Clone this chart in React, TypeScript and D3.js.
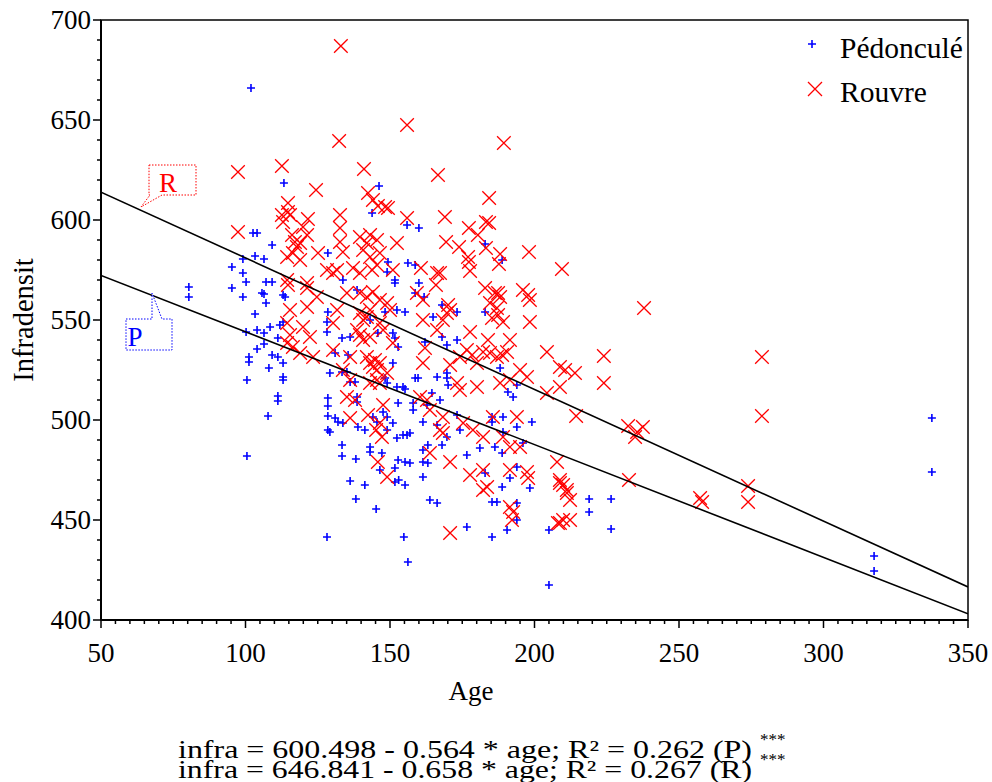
import React from "react";
import * as d3 from "d3";

// [age, infradensité]
const pedonculePoints: [number, number][] = [
  [101.9,666],[102.6,593.5],[104,593.5],[103.3,582],[106.4,580.5],[99.1,580.5],[95.3,576.5],[99.1,573.5],[100.2,569],[107.1,569],
  [95.3,566],[99.1,561.5],[106.4,563],[107.1,558.5],[103.3,553],[100.2,544],[104,545],[106.4,543.5],[106.4,538],[104,535.5],
  [101.2,531.5],[101.2,529],[108.1,526],[100.5,520],[80.4,566.5],[80.4,561.5],[107.8,502],[100.5,482],
  [113.3,618.5],[146.2,617],[143.8,603.5],
  [160,596],[182.9,588],[188.8,580],[158.7,577.5],[160,568.5],[158.7,563.5],[161.8,561.5],
  [155.9,597.5],[109.2,587.5],[128.5,583.5],[149.3,579],[156.2,578.5],[149,574],[151.7,570],[151.7,568.5],[109.2,569],[105.7,563.5],
  [113,562.5],[113.7,561.5],[133.7,570],[138.6,565],[128.5,554],[148.3,554],[152.4,555],[155.2,554],[143.1,550],[128.2,549],
  [128.2,544],[108.5,546.5],[111.9,547.5],[113,549],[111.2,541],[133.4,541],[136.2,541.5],[145.8,543.5],[151,543.5],[151.7,541],
  [131,533.5],[135.5,532.5],[152.8,536.5],[109.2,532.5],[111.2,531.5],[113,528.5],[151,528.5],[129.2,523.5],[133.4,524],[135.1,524],
  [136.2,519],[137.9,519],[113,521.5],[113,520],[148.3,521],[149,518.5],[152.4,516.5],[154.5,516.5],[158.7,521],
  [111.2,512],[111.2,509.5],[128.5,511],[128.5,507],[128.5,502],[131,501],[132,499],[128.5,495],[129.2,494],[138.6,511.5],
  [138.6,509],[133.7,498.5],[138.9,496.5],[141.3,495],[144.1,501.5],[145.5,499],[147.6,504],[149,501.5],[151,498.5],[149,495],
  [155.2,515.5],[158,508.5],[158,505],[152.8,508.5],[152.4,491],[154.5,492.5],[155.9,492.5],[156.9,493.5],[133.4,487.5],[133.4,482],
  [138.2,480.5],[143.1,486.5],[143.1,484],[147.2,483.5],[152.8,480],[155.2,479],[156.9,478.5],[151.7,476],[146.5,475],[136.2,469.5],
  [141.3,467.5],[151.7,469],[153,470],[155.2,467.5],[138.2,460.5],[145.2,455.5],[128.2,441.5],[154.8,441.5],[156.2,429],
  [168,557.5],[173.2,554],[182.9,554],[164.9,551.5],[162.1,539],[168,541.5],[169.7,537.5],[173.2,540],[188.1,526],[159.7,521],
  [166.3,521.5],[169.7,523.5],[169.7,521],[170.1,517.5],[193.9,517.5],[190.8,514],[192.6,511.5],[164.5,513.5],[162.8,507.5],[167.3,510],
  [173.2,502.5],[185.3,501.5],[185.3,499],[189.1,501.5],[161.4,499],[166.3,497.5],[169.7,491.5],[174.2,495],[189.1,494],[193.9,496.5],
  [199.1,499],[163.1,487.5],[168,487.5],[161.4,485],[161.4,479],[176.6,482.5],[181.1,486],[186.3,486.5],[188.8,483.5],[196,488.5],
  [163.1,478.5],[182.9,473.5],[191.5,471],[193.9,476.5],[161.4,471.5],[188.8,466.5],[198.4,466],[163.8,460],[166.3,458.5],[185.3,459],
  [187,459],[193.9,458.5],[193.9,450],[176.6,446.5],[190.5,445],[205,445],[185.3,441.5],
  [218.9,460.5],[218.9,454],[226.5,460.5],[226.5,445.5],[205,417.5],[337.5,501],[337.5,474],[317.5,432],[317.5,424.5],
];

const rouvrePoints: [number, number][] = [
  [97.4,624],[97.4,594],
  [133,687],[155.9,647.5],[132.4,639.5],[112.6,627],[141,625.5],[124.4,615],[142.4,613.5],[144.1,610],[114.7,608.5],[145.8,607],
  [148.3,606.5],[149.3,606],[112.6,602.5],[114.7,604],[132.7,602.5],[155.9,601],[121.6,600.5],
  [189.4,638.5],[166.6,622.5],[184.3,611],[169,601.5],[183.2,599],[184.3,598.5],[177.3,596],[180.4,592.5],[169.4,589],[173.9,586.5],
  [183.2,586],[177,581.5],[177.3,579],[188.1,583],[198.1,584],[187.7,578],[177.7,574.5],[209.5,575.5],[160.7,576],[166.3,573.5],
  [167.3,573.5],[165.9,567.5],[182.9,566],[187.4,563.5],[196,565],[197.8,562.5],
  [113,599],[115.4,602.5],[116.1,592.5],[119.9,596.5],[117.1,589],[118.9,588.5],[117.8,586.5],[121.3,592.5],[132.7,596],[132.7,589],
  [139.6,591.5],[143.1,592.5],[145.5,590],[142,588.5],[152.4,588.5],[114.4,581.5],[116.4,583.5],[118.9,580],[125.1,583.5],[133.7,584],
  [140.7,585],[143.1,581.5],[146.5,583.5],[114.4,570],[114.7,567.5],[121.3,568.5],[121.3,566],[128.2,575],[130.3,573.5],[131.7,575],
  [137.2,576],[139.6,573.5],[143.8,575],[145.5,577.5],[151,575],[124.7,561.5],[135.1,563.5],[139.6,563.5],[142,561.5],[144.1,564],
  [146.5,560],[149,558.5],[115.4,555],[114.4,548.5],[121.3,556.5],[131.7,555],[139.6,553.5],[140.7,550],[142,551.5],[143.1,555],
  [150,555],[115.4,542.5],[119.9,546.5],[122.3,541.5],[130.3,548.5],[138.6,545],[139.6,542.5],[140.7,540],[143.1,541.5],[146.5,548.5],
  [147.6,545],[151,538.5],[114.4,538.5],[116.4,536.5],[118.9,533.5],[123.4,531.5],[130.3,535],[136.2,531.5],[142,531.5],[143.1,528.5],
  [144.1,526.5],[145.5,525],[144.8,530],[146.5,528.5],[149,523.5],[145.5,520],[143.1,518.5],[146.5,518.5],[133.7,525],[136.2,520],
  [135.1,511.5],[137.9,510],[136.2,501],[142.4,502.5],[145.2,495],[147.2,491.5],[147.6,507.5],[145.8,479],[149,471.5],[146.5,498.5],
  [159.3,563.5],[161.4,560],[170.1,557.5],[170.8,555],[184.6,558.5],[187,556],[188.1,561.5],[186.3,563.5],[198.4,560],[161.4,550],
  [168.3,550],[169.7,553.5],[185.3,551],[187.4,552.5],[189.1,549],[198.4,549],[166.3,545],[177.7,544],[183.9,540],[191.5,540],
  [162.1,536],[176.6,535],[178.4,532.5],[174.2,531.5],[182.2,534],[184.6,533.5],[187,531.5],[188.8,532.5],[190.5,534],[204.3,534],
  [208.8,526.5],[210.6,525],[161.4,528.5],[170.8,527.5],[180.1,528.5],[195,525],[173.2,518.5],[174.2,515],[180.1,516.5],[188.1,518.5],
  [191.5,520],[197.4,521.5],[204.3,513.5],[208.8,516.5],[160.4,511.5],[162.8,510],[163.8,505],[168.3,501.5],[167.3,495],[168.3,493.5],
  [175.3,498.5],[178.7,495],[185.6,501.5],[189.1,491.5],[193.9,501.5],[182.2,491.5],[191.5,486.5],[195,486.5],[163.8,483.5],[170.8,479],
  [207.8,479],[182.2,475],[177.7,472.5],[191.5,475],[197.4,474],[197.8,471],[208.8,470],[209.9,467.5],[211.2,465],[182.2,465],
  [183.6,466.5],[191.5,456.5],[192.6,454],[209.9,450],[208.8,448.5],[170.8,443.5],[192.2,450],
  [237.9,556],[224,532],[278.7,531.5],[214,523.5],[224,518.5],[214.4,502],[278.7,502],[232.4,497],[235.5,494],[237.5,496.5],
  [234.8,491.5],[232.7,470],[208.8,468.5],[211.2,463.5],[212.3,460],[257.3,461],[258,459],[273.9,467],[273.9,459],[208.1,448.5],
  [212.3,450],
];

const xTicks = [50, 100, 150, 200, 250, 300, 350];
const yTicks = [400, 450, 500, 550, 600, 650, 700];
const fitP = { intercept: 600.498, slope: -0.564 };
const fitR = { intercept: 646.841, slope: -0.658 };
const equations = [
  "infra = 600.498 - 0.564 * age; R\u00B2 = 0.262 (P)",
  "infra = 646.841 - 0.658 * age; R\u00B2 = 0.267 (R)",
];

const FONT = '"Liberation Serif", "DejaVu Serif", "Times New Roman", serif';
const W = 992, H = 782;
const L = 101, R = 968, T = 20, B = 620;

export default function App() {
  const x = d3.scaleLinear().domain([50, 350]).range([L, R]);
  const y = d3.scaleLinear().domain([400, 700]).range([B, T]);
  const minorX = d3.range(50, 351, 5);
  const minorY = d3.range(400, 701, 10);
  const fitLine = (f: { intercept: number; slope: number }) =>
    d3.line<number>().x((a) => x(a)).y((a) => y(f.intercept + f.slope * a))([50, 350]) || "";
  const blue = "#0000ff";
  const red = "#ff0000";
  const plus = (cx: number, cy: number, s: number) => `M${cx - s},${cy}H${cx + s}M${cx},${cy - s}V${cy + s}`;
  const cross = (cx: number, cy: number, s: number) =>
    `M${cx - s},${cy - s}L${cx + s},${cy + s}M${cx - s},${cy + s}L${cx + s},${cy - s}`;
  const ts = { fontFamily: FONT };

  return (
    <svg width={W} height={H} style={{ position: "absolute", left: 0, top: 0, background: "#fff", fontFamily: FONT }}>
      <rect x={0} y={0} width={W} height={H} fill="#fff" />
      <defs>
        <clipPath id="plot">
          <rect x={L} y={T} width={R - L} height={B - T} />
        </clipPath>
      </defs>
      <rect x={L} y={T} width={R - L} height={B - T} fill="none" stroke="#000" strokeWidth={1.5} />
      <line x1={L} x2={L} y1={T} y2={B} stroke="#000" strokeWidth={2} />
      <line x1={L} x2={R} y1={B} y2={B} stroke="#000" strokeWidth={2} />
      {minorY.map((v) => (
        <line key={"my" + v} x1={L} x2={L - (v % 50 === 0 ? 8 : 4)} y1={y(v)} y2={y(v)} stroke="#000" strokeWidth={1.5} />
      ))}
      {yTicks.map((v) => (
        <text key={"ty" + v} style={ts} x={L - 10} y={y(v)} dy="0.35em" textAnchor="end" fontSize={27}>{v}</text>
      ))}
      {minorX.map((v) => (
        <line key={"mx" + v} x1={x(v)} x2={x(v)} y1={B} y2={B + (v % 50 === 0 ? 8 : 4)} stroke="#000" strokeWidth={1.5} />
      ))}
      {xTicks.map((v) => (
        <text key={"tx" + v} style={ts} x={x(v)} y={B + 42} textAnchor="middle" fontSize={27}>{v}</text>
      ))}
      <text style={ts} x={471} y={700} textAnchor="middle" fontSize={27}>Age</text>
      <text style={ts} transform={`translate(33,${(T + B) / 2}) rotate(-90)`} textAnchor="middle" fontSize={28.5}>Infradensit</text>

      <g clipPath="url(#plot)">
        {pedonculePoints.map(([a, v], i) => (
          <path key={"p" + i} d={plus(x(a), y(v), 4)} stroke={blue} strokeWidth={1.6} fill="none" />
        ))}
        {rouvrePoints.map(([a, v], i) => (
          <path key={"r" + i} d={cross(x(a), y(v), 6.8)} stroke={red} strokeWidth={1.3} fill="none" />
        ))}
        <path d={fitLine(fitR)} stroke="#000" strokeWidth={1.6} fill="none" />
        <path d={fitLine(fitP)} stroke="#000" strokeWidth={1.6} fill="none" />
      </g>

      <path d="M149,165H196V195H162L141,207L150,195H149Z" fill="#fff" stroke={red} strokeWidth={1} strokeDasharray="1.5,1.5" />
      <text style={ts} x={168} y={192} textAnchor="middle" fontSize={27} fill={red}>R</text>
      <path d="M126,319H152L152,293L162,319H172V350H126Z" fill="#fff" stroke={blue} strokeWidth={1} strokeDasharray="1.5,1.5" />
      <text style={ts} x={135} y={346} textAnchor="middle" fontSize={27} fill={blue}>P</text>

      <path d={plus(812, 44, 4)} stroke={blue} strokeWidth={1.6} fill="none" />
      <text style={ts} x={840} y={58} fontSize={29.5}>Pédonculé</text>
      <path d={cross(815, 89, 7)} stroke={red} strokeWidth={1.3} fill="none" />
      <text style={ts} x={840} y={102} fontSize={29.5}>Rouvre</text>

      {equations.map((e, i) => (
        <g key={"eq" + i}>
          <text style={ts} x={178} y={758 + i * 20} fontSize={25} textLength={574} lengthAdjust="spacingAndGlyphs">{e}</text>
          <text style={ts} x={760} y={745 + i * 20} fontSize={17} fill="#000">***</text>
        </g>
      ))}
    </svg>
  );
}
